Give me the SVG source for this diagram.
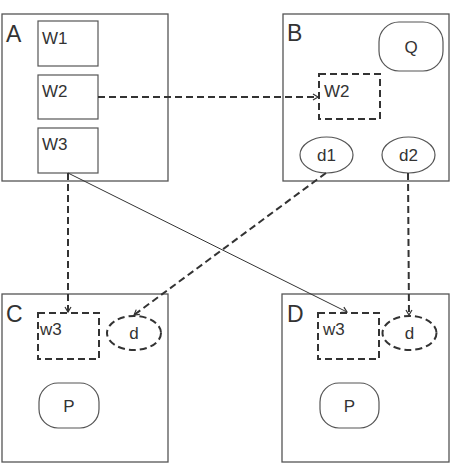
<svg xmlns="http://www.w3.org/2000/svg" width="456" height="464" viewBox="0 0 456 464">
<style>
.box{fill:#fff;stroke:#555;stroke-width:1.3}
.in{fill:#fff;stroke:#555;stroke-width:1.2}
.dsh{fill:#fff;stroke:#333;stroke-width:2;stroke-dasharray:7 4}
.big{font-family:"Liberation Sans",Arial,sans-serif;font-size:23px;fill:#333}
.t{font-family:"Liberation Sans",Arial,sans-serif;font-size:17px;fill:#333}
.c{text-anchor:middle}
.con{fill:none;stroke:#333}
.cd{stroke-width:2;stroke-dasharray:7 4}
.cs{stroke-width:1}
</style>
<defs>
<marker id="ah" markerWidth="8" markerHeight="8" refX="6" refY="4" orient="auto" markerUnits="userSpaceOnUse">
<path d="M1,1 L6,4 L1,7" fill="none" stroke="#333" stroke-width="1.2"/>
</marker>
</defs>
<g id="A">
<rect class="box" x="2" y="14" width="166" height="167"/>
<text class="big" x="6" y="42">A</text>
<g id="A-W1"><rect class="in" x="38" y="21" width="60" height="45"/><text class="t" x="42" y="44">W1</text></g>
<g id="A-W2"><rect class="in" x="38" y="75" width="60" height="44"/><text class="t" x="42" y="97">W2</text></g>
<g id="A-W3"><rect class="in" x="38" y="128" width="60" height="45"/><text class="t" x="42" y="150">W3</text></g>
</g>
<g id="B">
<rect class="box" x="283" y="14" width="166" height="167"/>
<text class="big" x="287" y="41">B</text>
<g id="B-Q"><rect class="in" x="379" y="22" width="64" height="49" rx="20" ry="20"/><text class="t c" x="411" y="53">Q</text></g>
<g id="B-W2"><rect class="dsh" x="319" y="74" width="61" height="45"/><text class="t" x="324" y="97">W2</text></g>
<g id="B-d1"><ellipse class="in" cx="326.5" cy="155" rx="26.5" ry="18"/><text class="t c" x="326.5" y="161">d1</text></g>
<g id="B-d2"><ellipse class="in" cx="408.5" cy="155" rx="26.5" ry="18"/><text class="t c" x="408.5" y="161">d2</text></g>
</g>
<g id="C">
<rect class="box" x="2" y="294" width="166" height="168"/>
<text class="big" x="6" y="322">C</text>
<g id="C-w3"><rect class="dsh" x="38" y="313" width="61" height="46"/><text class="t" x="40" y="335">w3</text></g>
<g id="C-d"><ellipse class="dsh" cx="134" cy="333" rx="27" ry="17"/><text class="t c" x="134" y="339">d</text></g>
<g id="C-P"><rect class="in" x="39" y="383" width="60" height="45" rx="19" ry="19"/><text class="t c" x="69" y="412">P</text></g>
</g>
<g id="D">
<rect class="box" x="282" y="294" width="167" height="168"/>
<text class="big" x="287" y="322">D</text>
<g id="D-w3"><rect class="dsh" x="318" y="313" width="61" height="46"/><text class="t" x="323" y="335">w3</text></g>
<g id="D-d"><ellipse class="dsh" cx="409.5" cy="333" rx="27" ry="17"/><text class="t c" x="409.5" y="339">d</text></g>
<g id="D-P"><rect class="in" x="320" y="383" width="59" height="45" rx="19" ry="19"/><text class="t c" x="349.5" y="412">P</text></g>
</g>
<g id="connectors">
<path class="con cd" d="M98,97 L318,97" marker-end="url(#ah)"/>
<path class="con cd" d="M68,173 L68,312" marker-end="url(#ah)"/>
<path class="con cs" d="M68,173 L347,312" marker-end="url(#ah)"/>
<path class="con cd" d="M326,173 L134,315" marker-end="url(#ah)"/>
<path class="con cd" d="M408,173 L409,315" marker-end="url(#ah)"/>
</g>
</svg>
